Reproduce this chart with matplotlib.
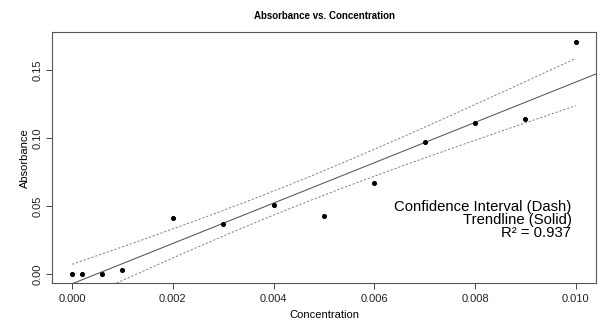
import numpy as np
import matplotlib.pyplot as plt

plt.rcParams['font.family'] = ['Liberation Sans', 'DejaVu Sans']

concentration = [0.0, 0.0002, 0.0006, 0.001, 0.002, 0.003, 0.004, 0.005,
                 0.006, 0.007, 0.008, 0.009, 0.010]
absorbance = [0.0, 0.0, 0.0, 0.0032, 0.0414, 0.0365, 0.0507, 0.0431,
              0.0669, 0.0971, 0.1112, 0.1144, 0.1713]
x_ticks = [0.000, 0.002, 0.004, 0.006, 0.008, 0.010]
y_ticks = [0.00, 0.05, 0.10, 0.15]
notes = ["Confidence Interval (Dash)", "Trendline (Solid)", "R\u00b2 = 0.937"]
t_crit = 2.201  # t(0.975, df=11)

x = np.array(concentration)
y = np.array(absorbance)
n = len(x)
slope, intercept = np.polyfit(x, y, 1)
resid = y - (slope * x + intercept)
s = np.sqrt(np.sum(resid ** 2) / (n - 2))
sxx = np.sum((x - x.mean()) ** 2)

xs = np.linspace(x.min(), x.max(), 200)
fit = slope * xs + intercept
half = t_crit * s * np.sqrt(1 / n + (xs - x.mean()) ** 2 / sxx)

fig = plt.figure(figsize=(6.01, 3.22), dpi=100)
ax = fig.add_axes([0.0865, 0.12, 0.905, 0.78])

ax.scatter(x, y, s=7, color='black', zorder=3)
xl = (-0.0004, 0.0104)
ax.plot(xl, [slope * v + intercept for v in xl], color='#555555', lw=0.75)
ax.plot(xs, fit + half, color='#777777', lw=0.65, dashes=(2.5, 2))
ax.plot(xs, fit - half, color='#777777', lw=0.65, dashes=(2.5, 2))

ax.set_xlim(xl)
ax.set_ylim(-0.0069, 0.1782)
ax.set_xticks(x_ticks)
ax.set_xticklabels(['%.3f' % v for v in x_ticks])
ax.set_yticks(y_ticks)
ax.set_yticklabels(['%.2f' % v for v in y_ticks], rotation=90, va='center')
ax.tick_params(length=4.5, width=0.7, color='#444444', labelsize=8, labelcolor='#222222')
ax.tick_params(axis='y', pad=2)
for sp in ax.spines.values():
    sp.set_color('#555555')
    sp.set_linewidth(0.8)

ax.set_xlabel("Concentration", fontsize=8, labelpad=4)
ax.set_ylabel("Absorbance", fontsize=8, labelpad=2)
fig.suptitle("Absorbance vs. Concentration", fontsize=7, fontweight='bold', x=0.54, y=0.965)

for i, txt in enumerate(notes):
    ax.text(0.955, 0.305 - i * 0.053, txt, transform=ax.transAxes, ha='right', va='center',
            fontsize=10.7, color='black')

fig.savefig("out.png", dpi=100)
